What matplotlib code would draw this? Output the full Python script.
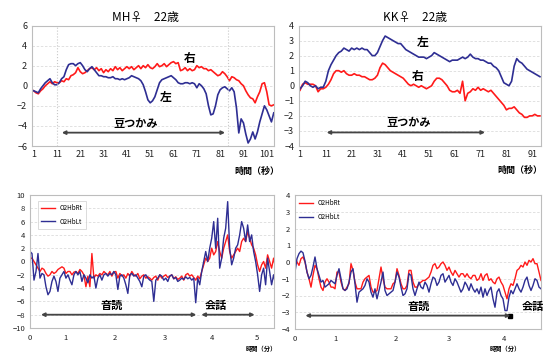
import matplotlib
matplotlib.use("Agg")
import matplotlib.pyplot as plt
import numpy as np

plt.rcParams['font.family'] = ['Noto Sans CJK JP', 'DejaVu Sans']

# ---------------- data ----------------
# Top-left: MH 22 (seconds 1..104)
mh_right = [-0.5, -0.7, -0.8, -0.5, -0.3, 0.0, 0.2, 0.4, 0.2, 0.4,
            0.3, 0.3, 0.5, 0.4, 0.7, 0.6, 1.0, 1.1, 1.3, 1.8,
            1.4, 1.2, 1.3, 1.5, 1.7, 1.8, 1.6, 1.8, 1.5, 1.7,
            1.3, 1.6, 1.4, 1.7, 1.5, 1.9, 1.6, 1.8, 1.5, 1.7,
            1.9, 1.7, 1.9, 1.6, 1.8, 2.0, 1.7, 2.0, 1.8, 2.1,
            1.8, 1.7, 1.9, 2.2, 1.9, 2.0, 2.2, 1.9, 2.1, 2.3,
            2.4, 2.2, 2.3, 1.5, 1.6, 1.8, 1.5, 1.7, 1.5, 1.6,
            2.0, 1.8, 1.9, 1.7, 1.7, 1.5, 1.6, 1.4, 1.2, 1.0,
            1.1, 1.4, 1.2, 0.9, 0.5, 0.9, 0.8, 0.6, 0.5, 0.2,
            0.0, -0.5, -0.9, -1.2, -1.3, -1.7, -1.1, -0.6, 0.2, 0.3,
            -0.6, -1.9, -2.0, -1.9]
mh_left = [-0.5, -0.6, -0.7, -0.3, 0.0, 0.3, 0.5, 0.7, 0.3, 0.1,
           0.1, 0.3, 0.7, 0.9, 1.6, 2.1, 2.2, 2.2, 2.0, 2.2,
           2.3, 2.0, 1.6, 1.4, 1.7, 1.9, 1.6, 1.3, 1.0, 1.0,
           0.9, 0.9, 0.8, 0.8, 0.9, 0.7, 0.7, 0.6, 0.7, 0.6,
           0.7, 0.8, 1.0, 0.9, 0.8, 0.7, 0.5, 0.1, -0.6, -1.4,
           -1.7, -1.5, -1.1, -0.4, 0.3, 0.6, 0.7, 0.8, 0.9, 1.0,
           0.8, 0.6, 0.3, 0.2, 0.2, 0.3, 0.3, 0.2, 0.3, 0.2,
           -0.2, 0.2, 0.0, -0.3, -0.8, -2.0, -2.9, -2.8, -2.0, -0.9,
           -0.4, -0.2, -0.1, -0.3, -0.5, -0.2, -0.6, -2.2, -4.7, -3.3,
           -3.7, -4.8, -5.7, -5.3, -4.6, -5.3, -4.6, -3.6, -2.8, -2.0,
           -2.4, -3.0, -3.6, -2.7]
mh_xticks = [1, 11, 21, 31, 41, 51, 61, 71, 81, 91, 101]

# Top-right: KK 22 (seconds 1..94)
kk_left = [-0.2, 0.0, 0.3, 0.2, 0.0, -0.1, 0.0, -0.2, -0.1, -0.1,
           0.3, 1.0, 1.4, 1.7, 2.0, 2.2, 2.3, 2.5, 2.4, 2.3,
           2.5, 2.4, 2.5, 2.4, 2.5, 2.4, 2.4, 2.2, 2.0, 2.0,
           2.2, 2.6, 3.0, 3.3, 3.2, 3.1, 3.0, 2.9, 2.8, 2.8,
           2.6, 2.4, 2.3, 2.2, 2.1, 2.0, 1.9, 1.9, 1.9, 1.8,
           1.9, 2.0, 2.2, 2.1, 2.0, 1.9, 1.8, 1.7, 1.6, 1.7,
           1.7, 1.7, 1.8, 1.9, 1.8, 1.9, 2.1, 1.9, 1.8, 1.8,
           1.7, 1.7, 1.6, 1.5, 1.5, 1.3, 1.2, 1.0, 0.6, 0.2,
           0.1, 0.0, 0.3, 1.3, 1.8, 1.6, 1.5, 1.3, 1.1, 1.0,
           0.9, 0.8, 0.7, 0.6]
kk_right = [-0.3, 0.1, 0.2, 0.1, 0.1, 0.1, 0.0, -0.4, -0.2, -0.2,
            -0.1, 0.1, 0.4, 0.8, 1.0, 1.0, 0.9, 1.0, 0.8, 0.7,
            0.7, 0.8, 0.7, 0.7, 0.6, 0.6, 0.5, 0.4, 0.4, 0.5,
            0.7, 1.2, 1.5, 1.4, 1.2, 1.0, 0.9, 0.8, 0.7, 0.6,
            0.5, 0.3, 0.1, 0.0, 0.1, 0.0, -0.1, 0.0, -0.1, -0.2,
            -0.1, 0.0, 0.3, 0.5, 0.5, 0.4, 0.2, 0.0, -0.3, -0.4,
            -0.4, -0.3, -0.5, 0.3, -1.0, -0.5, -0.4, -0.2, -0.3, -0.1,
            -0.3, -0.2, -0.3, -0.4, -0.3, -0.5, -0.7, -0.9, -1.1, -1.3,
            -1.6, -1.5, -1.5, -1.4, -1.6, -1.8, -1.9, -2.1, -2.1, -2.0,
            -2.0, -1.9, -2.0, -2.0]
kk_xticks = [1, 11, 21, 31, 41, 51, 61, 71, 81, 91]

# Bottom-left: MH oral reading / conversation (samples)
bl_rt = [0.5, 0.5, 0.0, -0.5, -1.0, -1.5, -1.0, -1.2, -1.8, -2.2,
         -2.0, -1.5, -1.8, -1.6, -1.2, -1.0, -0.8, -1.0, -1.8, -1.5,
         -1.5, -2.0, -1.6, -1.5, -1.8, -1.2, -1.5, -2.0, -3.8, -2.2,
         -3.8, 1.2, -2.5, -2.0, -2.2, -1.8, -2.0, -1.5, -1.8, -2.0,
         -1.5, -2.2, -1.6, -1.5, -2.5, -1.8, -2.2, -2.0, -2.5, -1.8,
         -2.2, -1.5, -2.0, -2.2, -1.8, -2.6, -2.2, -2.0, -2.5, -2.3,
         -2.5, -2.8, -2.4, -2.2, -2.8, -2.0, -2.5, -2.2, -2.0, -2.4,
         -2.2, -2.0, -2.6, -2.3, -2.7, -2.5, -2.2, -2.8, -2.0, -1.8,
         -2.2, -2.0, -2.4, -2.8, -2.2, -2.6, -1.5, -0.5, 0.5, 0.0,
         0.5, 2.0, 1.0, 1.5, 3.0, 1.5, 0.5, 2.0, 3.0, 4.0,
         1.5, 0.5, 1.0, 1.5, 2.0, 1.5, 3.0, 3.5, 3.0, 4.5,
         3.5, 2.5, 2.0, 1.0, -0.5, -1.5, -0.5, 0.0, -1.0, 1.0,
         0.0, -1.0, 0.5, -1.0]
bl_lt = [1.5, 1.2, -2.8, -1.5, 1.2, -2.5, -1.8, -2.0, -3.8, -5.0,
         -4.5, -3.0, -2.2, -3.0, -4.5, -2.5, -2.0, -1.5, -2.5, -2.0,
         -2.8, -3.5, -2.0, -1.5, -2.0, -1.5, -3.0, -2.0, -2.5, -3.2,
         -2.0, -2.5, -2.2, -4.0, -2.5, -2.0, -2.8, -2.0, -1.8, -2.2,
         -1.8, -2.0, -1.5, -2.0, -4.2, -2.2, -2.0, -2.5, -3.5, -4.8,
         -2.0, -1.8, -2.2, -2.0, -2.5, -3.0, -3.8, -2.2, -2.0, -2.5,
         -2.8, -3.0, -6.0, -2.8, -2.5, -2.0, -2.2, -2.8, -2.5, -3.0,
         -2.2, -2.0, -2.6, -2.4, -3.0, -2.8, -2.5, -2.7, -2.3, -2.6,
         -2.4, -2.8, -2.5, -6.2, -2.5, -3.5, -1.5, 0.0, 1.5, 0.0,
         2.0, 3.5, 6.0, 2.0, 6.5, -1.0, 0.5, 3.5, 5.0, 9.0,
         2.0, -0.5, 0.5, 2.0, 2.5, 4.0, 6.0, 5.0, 3.0, 5.5,
         3.0, 4.0, 1.5, 0.0, -2.0, -4.5, -2.0, -1.0, -3.5, 0.5,
         -1.5, -3.5, -2.0, -3.5]
bl_tick_pos = [0, 17.7, 42.3, 67.3, 91.3, 113.5]
bl_tick_lab = ['0', '1', '2', '3', '4', '5']

# Bottom-right: KK oral reading / conversation (samples)
br_rt = [0.2, 0.0, -0.2, 0.2, 0.3, 0.0, -0.6, -1.0, -1.5, -0.8,
         -0.2, -0.4, -1.0, -1.5, -1.7, -1.2, -1.0, -1.2, -1.5, -1.5,
         -1.6, -0.6, -0.6, -1.2, -1.6, -1.7, -1.5, -1.3, -0.1, -0.5,
         -1.2, -1.6, -1.6, -1.6, -1.2, -1.0, -0.9, -0.8, -1.5, -1.8,
         -1.8, -1.7, -1.0, -0.3, -1.0, -1.5, -1.6, -1.6, -1.6, -1.3,
         -1.2, -0.4, -0.8, -1.3, -1.6, -1.6, -1.4, -0.5, -0.5, -1.2,
         -1.5, -1.5, -1.3, -1.2, -1.1, -1.1, -1.0, -0.9, -0.6, -0.2,
         -0.1, -0.4, -0.3, -0.1, 0.0, -0.2, -0.5, -0.3, -0.6, -0.8,
         -0.5, -0.7, -0.9, -0.7, -0.7, -0.9, -0.7, -0.9, -1.0, -0.8,
         -0.8, -1.1, -1.0, -0.7, -1.1, -0.8, -0.7, -1.1, -1.0, -1.2,
         -1.3, -1.0, -0.9, -1.2, -1.4, -1.8, -2.2, -1.6, -1.3, -1.4,
         -1.0, -0.5, -0.4, -0.2, -0.3, 0.0, -0.2, 0.1, 0.0, 0.2,
         -0.1, -0.1, -0.6, -1.1]
br_lt = [-0.6, 0.2, 0.5, 0.65, 0.55, 0.05, -0.6, -1.0, -0.8, -0.3,
         0.3, -0.4, -0.8, -1.2, -1.1, -1.5, -1.4, -1.3, -1.1, -1.2,
         -1.3, -0.8, -0.4, -1.0, -1.6, -1.7, -1.6, -1.2, -0.6, -0.4,
         -1.3, -2.4, -1.8, -1.7, -1.6, -1.4, -1.0, -1.2, -1.8, -2.1,
         -1.6, -2.2, -1.7, -1.2, -0.6, -1.7, -2.0, -1.9, -1.8, -1.7,
         -1.2, -0.6, -0.9, -1.5, -2.0, -1.9, -1.6, -0.7, -0.8, -1.6,
         -2.0, -1.6, -1.2, -1.5, -1.6, -1.2, -1.4, -1.8, -1.3, -0.9,
         -1.0, -1.4, -1.2, -0.8, -0.7, -1.2, -1.0, -0.8, -1.2, -1.4,
         -1.0, -1.2, -1.5, -1.8, -1.6, -1.2, -1.4, -1.7, -1.3, -1.6,
         -1.8, -1.6, -1.9, -1.5, -2.1, -1.6, -2.0, -1.7, -1.5, -2.2,
         -2.7, -1.8, -1.6, -2.0, -2.2, -2.9, -2.9, -2.1, -1.7, -1.9,
         -1.6, -1.3, -1.6, -1.8, -1.5, -1.1, -0.9, -1.4, -1.7, -1.4,
         -1.0, -1.1, -1.5, -1.6]
br_tick_pos = [0, 20.2, 50.2, 76.8, 104.7]
br_tick_lab = ['0', '1', '2', '3', '4']

RED = '#ff1a1a'
BLUE = '#2e2e93'
GRID = '#dcdcdc'
SPINE = '#bdbdbd'
ARROW = '#444444'

W, H = 544, 352
fig = plt.figure(figsize=(W / 100, H / 100), dpi=100)


def make_ax(x0, x1, ytop, ybot):
    ax = fig.add_axes([x0 / W, 1 - ybot / H, (x1 - x0) / W, (ybot - ytop) / H])
    for s in ax.spines.values():
        s.set_color(SPINE)
        s.set_linewidth(0.8)
    ax.tick_params(length=0, labelsize=6.5, colors='#222222')
    ax.yaxis.grid(True, color=GRID, lw=0.6, ls=(0, (3, 2)))
    ax.set_axisbelow(True)
    return ax


def arrow(ax, x1, x2, y):
    ax.annotate('', xy=(x2, y), xytext=(x1, y),
                arrowprops=dict(arrowstyle='<|-|>', color=ARROW, lw=1.3,
                                mutation_scale=5, shrinkA=0, shrinkB=0))


bold = dict(fontweight='bold', color='black')

# ---- Top-left ----
ax1 = make_ax(32, 274, 25.5, 146)
x_mh = np.arange(1, len(mh_right) + 1)
ax1.plot(x_mh, mh_right, color=RED, lw=1.2)
ax1.plot(x_mh, mh_left, color=BLUE, lw=1.2)
ax1.set_xlim(0.3, 104.1)
ax1.set_ylim(-6, 6)
ax1.set_yticks(range(-6, 7, 2))
ax1.set_xticks(mh_xticks)
ax1.tick_params(axis='x', pad=3)
ax1.axvline(11.1, color='#c8c8c8', lw=0.8, ls=':')
ax1.axvline(84.4, color='#c8c8c8', lw=0.8, ls=':')
ax1.set_title('MH♀　22歳', fontsize=8.5, pad=3, x=0.47)
ax1.text(68, 2.7, '右', fontsize=8.5, ha='center', va='center', **bold)
ax1.text(57.7, -1.2, '左', fontsize=8.5, ha='center', va='center', **bold)
ax1.text(44.6, -4.45, '豆つかみ', fontsize=8, ha='center', va='bottom', **bold)
arrow(ax1, 13.1, 83.1, -4.67)
fig.text(257 / W, 1 - 171 / H, '時間（秒）', fontsize=6.5, ha='center', va='center', **bold)

# ---- Top-right ----
ax2 = make_ax(299, 541, 25.5, 146)
x_kk = np.arange(1, len(kk_left) + 1)
ax2.plot(x_kk, kk_right, color=RED, lw=1.2)
ax2.plot(x_kk, kk_left, color=BLUE, lw=1.2)
ax2.set_xlim(0.6, 94.4)
ax2.set_ylim(-4, 4)
ax2.set_yticks(range(-4, 5))
ax2.set_xticks(kk_xticks)
ax2.tick_params(axis='x', pad=3)
ax2.set_title('KK♀　22歳', fontsize=8.5, pad=3, x=0.48)
ax2.text(48.4, 2.87, '左', fontsize=8.5, ha='center', va='center', **bold)
ax2.text(46.5, 0.64, '右', fontsize=8.5, ha='center', va='center', **bold)
ax2.text(43, -2.85, '豆つかみ', fontsize=8, ha='center', va='bottom', **bold)
arrow(ax2, 11.3, 72.7, -3.1)
fig.text(520 / W, 1 - 170 / H, '時間（秒）', fontsize=6.5, ha='center', va='center', **bold)

# ---- Bottom-left ----
ax3 = make_ax(30, 274, 195, 328)
x_bl = np.arange(len(bl_rt))
ax3.plot(x_bl, bl_rt, color=RED, lw=1.0, label='O2HbRt')
ax3.plot(x_bl, bl_lt, color=BLUE, lw=1.0, label='O2HbLt')
ax3.set_xlim(0, 122.2)
ax3.set_ylim(-10, 10)
ax3.set_yticks(range(-10, 11, 2))
ax3.set_xticks(bl_tick_pos)
ax3.set_xticklabels(bl_tick_lab)
ax3.tick_params(labelsize=5.5)
ax3.tick_params(axis='x', pad=4.5)
leg = ax3.legend(loc='upper left', fontsize=4.5, frameon=True, fancybox=False,
                 handlelength=2.2, borderpad=0.5, labelspacing=0.9,
                 bbox_to_anchor=(0.02, 0.98), edgecolor='#cccccc')
leg.get_frame().set_linewidth(0.6)
ax3.text(40.8, -7.6, '音読', fontsize=8, ha='center', va='bottom', **bold)
ax3.text(93, -7.6, '会話', fontsize=8, ha='center', va='bottom', **bold)
arrow(ax3, 5.5, 83.3, -8)
arrow(ax3, 85.8, 112.5, -8)
fig.text(261 / W, 1 - 348.5 / H, '時間（分）', fontsize=4.5, ha='center', va='center', **bold)

# ---- Bottom-right ----
ax4 = make_ax(295, 541, 195, 329)
x_br = np.arange(len(br_rt))
ax4.plot(x_br, br_rt, color=RED, lw=1.0, label='O2HbRt')
ax4.plot(x_br, br_lt, color=BLUE, lw=1.0, label='O2HbLt')
ax4.set_xlim(0, 123)
ax4.set_ylim(-4, 4)
ax4.set_yticks(range(-4, 5))
ax4.set_xticks(br_tick_pos)
ax4.set_xticklabels(br_tick_lab)
ax4.tick_params(labelsize=5.5)
ax4.tick_params(axis='x', pad=4.5)
ax4.legend(loc='upper left', fontsize=4.5, frameon=False,
           handlelength=2.2, borderpad=0.2, labelspacing=0.9,
           bbox_to_anchor=(0.0, 1.0))
ax4.text(61.8, -3.05, '音読', fontsize=8, ha='center', va='bottom', **bold)
ax4.text(119, -3.05, '会話', fontsize=8, ha='center', va='bottom', clip_on=False, **bold)
arrow(ax4, 5.2, 107.7, -3.2)
ax4.plot([107.7], [-3.2], marker='s', ms=2.5, color='black')
fig.text(505 / W, 1 - 348 / H, '時間（分）', fontsize=4.5, ha='center', va='center', **bold)

fig.savefig('out.png', dpi=100, facecolor='white')
